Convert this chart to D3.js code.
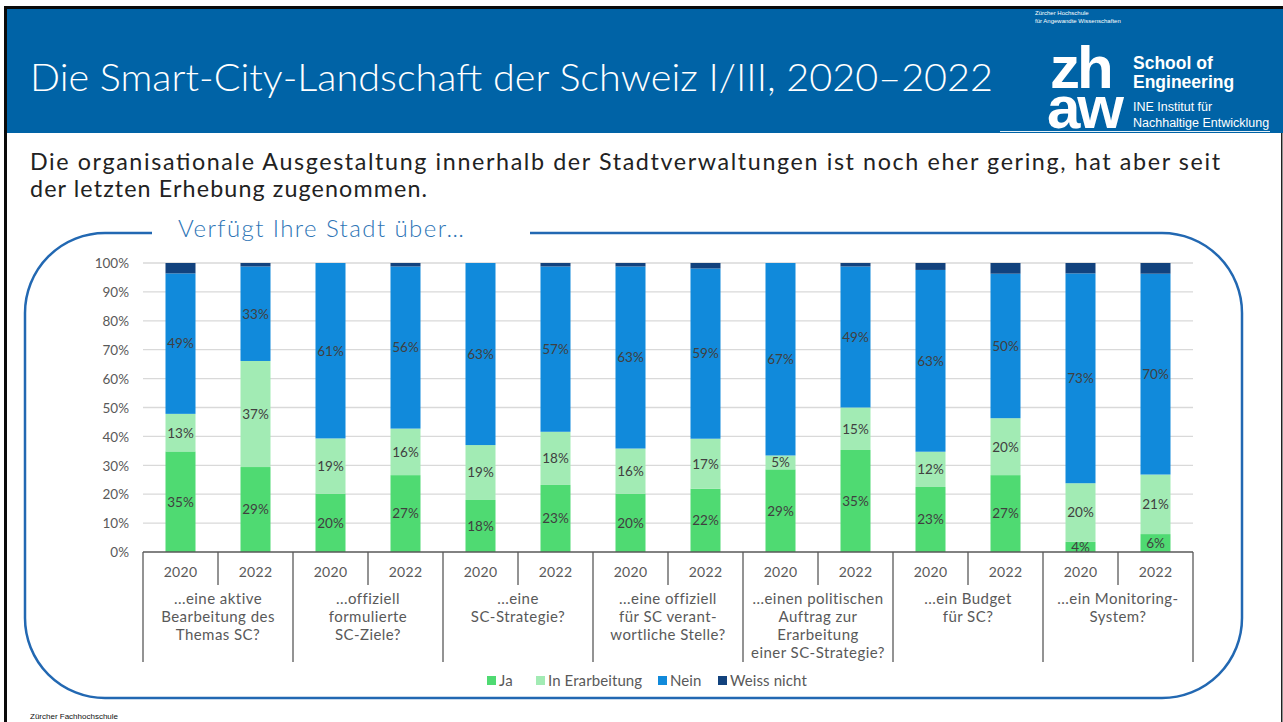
<!DOCTYPE html>
<html><head><meta charset="utf-8">
<script src="https://cdn.jsdelivr.net/npm/d3@7"></script>
<style>
html,body{margin:0;padding:0;background:#fff;}
svg{display:block;}
</style></head>
<body>
<svg id="c" width="1283" height="722"></svg>
<script>
// ---------- data ----------
const groupLabels = [
  ["...eine aktive", "Bearbeitung des", "Themas SC?"],
  ["...offiziell", "formulierte", "SC-Ziele?"],
  ["...eine", "SC-Strategie?"],
  ["...eine offiziell", "für SC verant-", "wortliche Stelle?"],
  ["...einen politischen", "Auftrag zur", "Erarbeitung", "einer SC-Strategie?"],
  ["...ein Budget", "für SC?"],
  ["...ein Monitoring-", "System?"]
];
const years = ["2020", "2022"];
const seriesNames = ["Ja", "In Erarbeitung", "Nein", "Weiss nicht"];
const ja            = [34.8, 29.4, 20.2, 26.6, 18.0, 23.2, 20.2, 21.9, 28.6, 35.3, 22.5, 26.6, 3.5, 6.2];
const inErarbeitung = [13.0, 36.7, 19.1, 16.1, 19.0, 18.4, 15.6, 17.3, 4.8, 14.7, 12.2, 19.7, 20.3, 20.6];
const nein          = [48.6, 32.7, 60.7, 56.1, 63.0, 57.2, 63.0, 58.9, 66.6, 48.8, 62.9, 50.0, 72.6, 69.5];
const weissNicht    = [3.6, 1.2, 0.0, 1.2, 0.0, 1.2, 1.2, 1.9, 0.0, 1.2, 2.4, 3.7, 3.6, 3.7];
const yTicks = [0, 10, 20, 30, 40, 50, 60, 70, 80, 90, 100];
const colors = ["#4FDA72", "#A2EBB4", "#118ADB", "#12427D"];

const svg = d3.select("#c");
const FONT = "Lato, 'Open Sans', sans-serif";

// ---------- slide frame ----------
svg.append("rect").attr("x", 7).attr("y", 9).attr("width", 1276).attr("height", 124).attr("fill", "#0063A6");
svg.append("rect").attr("x", 4).attr("y", 6).attr("width", 1279).attr("height", 3).attr("fill", "#0a0a0a");
svg.append("rect").attr("x", 4).attr("y", 6).attr("width", 3).attr("height", 716).attr("fill", "#0a0a0a");
svg.append("rect").attr("x", 1281).attr("y", 133).attr("width", 1.5).attr("height", 589).attr("fill", "#222");
svg.append("rect").attr("x", 1000).attr("y", 131).attr("width", 270).attr("height", 1).attr("fill", "#ffffff").attr("opacity", 0.9);

svg.append("text").attr("x", 30).attr("y", 91)
  .attr("font-family", FONT).attr("font-weight", 300).attr("font-size", 37)
  .attr("textLength", 963).attr("lengthAdjust", "spacingAndGlyphs")
  .attr("fill", "#fff").text("Die Smart-City-Landschaft der Schweiz I/III, 2020–2022");

// logo
const LF = "'Liberation Sans', Arial, sans-serif";
svg.append("text").attr("x", 1035).attr("y", 15).attr("font-family", LF).attr("font-size", 6).attr("fill", "#fff").text("Zürcher Hochschule");
svg.append("text").attr("x", 1035).attr("y", 23).attr("font-family", LF).attr("font-size", 6).attr("fill", "#fff").text("für Angewandte Wissenschaften");
const logo = svg.append("text").attr("font-family", LF).attr("font-weight", 700).attr("font-size", 60)
  .attr("letter-spacing", -3).attr("fill", "#fff");
logo.append("tspan").attr("x", 1050).attr("y", 88).text("zh");
logo.append("tspan").attr("x", 1047).attr("y", 128).text("aw");
svg.append("text").attr("x", 1133).attr("y", 69).attr("font-family", LF).attr("font-weight", 700).attr("font-size", 17.5).attr("fill", "#fff").text("School of");
svg.append("text").attr("x", 1133).attr("y", 88).attr("font-family", LF).attr("font-weight", 700).attr("font-size", 17.5).attr("fill", "#fff").text("Engineering");
svg.append("text").attr("x", 1133).attr("y", 111).attr("font-family", LF).attr("font-size", 12.5).attr("fill", "#fff").text("INE Institut für");
svg.append("text").attr("x", 1133).attr("y", 127).attr("font-family", LF).attr("font-size", 12.5).attr("fill", "#fff").text("Nachhaltige Entwicklung");

// subtitle
svg.append("text").attr("x", 30).attr("y", 170).attr("font-family", FONT).attr("font-size", 23.3)
  .attr("textLength", 1190).attr("lengthAdjust", "spacing")
  .attr("fill", "#222").text("Die organisationale Ausgestaltung innerhalb der Stadtverwaltungen ist noch eher gering, hat aber seit");
svg.append("text").attr("x", 30).attr("y", 197).attr("font-family", FONT).attr("font-size", 23.3)
  .attr("textLength", 397).attr("lengthAdjust", "spacing")
  .attr("fill", "#222").text("der letzten Erhebung zugenommen.");

// rounded box with gap
const bx0 = 25, bx1 = 1242, by0 = 233, by1 = 698, r = 80;
const boxPath = d3.path();
boxPath.moveTo(152, by0);
boxPath.lineTo(bx0 + r, by0);
boxPath.arcTo(bx0, by0, bx0, by0 + r, r);
boxPath.lineTo(bx0, by1 - r);
boxPath.arcTo(bx0, by1, bx0 + r, by1, r);
boxPath.lineTo(bx1 - r, by1);
boxPath.arcTo(bx1, by1, bx1, by1 - r, r);
boxPath.lineTo(bx1, by0 + r);
boxPath.arcTo(bx1, by0, bx1 - r, by0, r);
boxPath.lineTo(530, by0);
svg.append("path").attr("d", boxPath.toString()).attr("fill", "none").attr("stroke", "#2268B2").attr("stroke-width", 2.5);
svg.append("text").attr("x", 178).attr("y", 237).attr("font-family", FONT).attr("font-weight", 300).attr("font-size", 24)
  .attr("textLength", 286).attr("lengthAdjust", "spacing")
  .attr("fill", "#2E75B6").text("Verfügt Ihre Stadt über…");

// ---------- chart ----------
const x0 = 143, x1 = 1193, yTop = 263, yBot = 552;
const nBars = ja.length;
const barIdx = d3.range(nBars);
const x = d3.scaleBand().domain(barIdx).range([x0, x1]).paddingInner(0.6).paddingOuter(0.3);
const xg = d3.scaleBand().domain(d3.range(groupLabels.length)).range([x0, x1]);
const y = d3.scaleLinear().domain([0, 100]).range([yBot, yTop]);

// gridlines
svg.append("g").selectAll("line").data(yTicks.slice(1)).join("line")
  .attr("x1", x0).attr("x2", x1).attr("y1", d => y(d)).attr("y2", d => y(d))
  .attr("stroke", "#D9D9D9").attr("stroke-width", 1.3);

// y axis labels
const yAxis = d3.axisLeft(y).tickValues(yTicks).tickFormat(d => d + "%").tickSize(0).tickPadding(0);
const yg = svg.append("g").attr("transform", `translate(129,0)`).call(yAxis);
yg.select(".domain").remove();
yg.selectAll("text").attr("font-family", FONT).attr("font-size", 13.5).attr("fill", "#595959").attr("dy", "0.35em");

// stacked bars
const rows = barIdx.map(i => ({ i, "Ja": ja[i], "In Erarbeitung": inErarbeitung[i], "Nein": nein[i], "Weiss nicht": weissNicht[i] }));
const stacked = d3.stack().keys(seriesNames)(rows);
const layers = svg.append("g").selectAll("g").data(stacked).join("g").attr("fill", (d, k) => colors[k]);
layers.selectAll("rect").data(d => d).join("rect")
  .attr("x", d => x(d.data.i)).attr("width", x.bandwidth())
  .attr("y", d => y(d[1])).attr("height", d => Math.max(0, y(d[0]) - y(d[1])));

// value labels (first three series)
stacked.slice(0, 3).forEach(layer => {
  svg.append("g").selectAll("text").data(layer).join("text")
    .attr("x", d => x(d.data.i) + x.bandwidth() / 2)
    .attr("y", d => (y(d[0]) + y(d[1])) / 2)
    .attr("dy", "0.36em").attr("text-anchor", "middle")
    .attr("font-family", FONT).attr("font-size", 13.5).attr("fill", "#404040")
    .text(d => Math.round(d[1] - d[0]) + "%");
});

// category axis
const ax = svg.append("g").attr("stroke", "#595959").attr("stroke-width", 1.3);
ax.append("line").attr("x1", x0).attr("x2", x1).attr("y1", yBot).attr("y2", yBot);
ax.selectAll(".gsep").data(d3.range(groupLabels.length + 1)).join("line")
  .attr("x1", g => g < groupLabels.length ? xg(g) : x1).attr("x2", g => g < groupLabels.length ? xg(g) : x1)
  .attr("y1", yBot).attr("y2", 662);
ax.selectAll(".isep").data(d3.range(groupLabels.length)).join("line")
  .attr("x1", g => xg(g) + xg.bandwidth() / 2).attr("x2", g => xg(g) + xg.bandwidth() / 2)
  .attr("y1", yBot).attr("y2", 585);

svg.append("g").selectAll("text").data(barIdx).join("text")
  .attr("x", i => x(i) + x.bandwidth() / 2).attr("y", 577).attr("text-anchor", "middle")
  .attr("font-family", FONT).attr("font-size", 14).attr("letter-spacing", 0.3).attr("fill", "#595959")
  .text(i => years[i % 2]);

const gl = svg.append("g").selectAll("text").data(groupLabels).join("text")
  .attr("text-anchor", "middle").attr("font-family", FONT).attr("font-size", 15)
  .attr("letter-spacing", 0.45).attr("fill", "#595959");
gl.each(function (lines, g) {
  d3.select(this).selectAll("tspan").data(lines).join("tspan")
    .attr("x", xg(g) + xg.bandwidth() / 2).attr("y", (d, k) => 604 + k * 18).text(d => d);
});

// legend
const legendX = [487, 536, 658, 718];
const lg = svg.append("g").selectAll("g").data(seriesNames).join("g")
  .attr("transform", (d, k) => `translate(${legendX[k]},676)`);
lg.append("rect").attr("width", 9).attr("height", 9).attr("fill", (d, k) => colors[k]);
lg.append("text").attr("x", 12).attr("y", 10).attr("font-family", FONT).attr("font-size", 15)
  .attr("letter-spacing", 0.1).attr("fill", "#595959").text(d => d);

// footer
svg.append("text").attr("x", 30).attr("y", 719).attr("font-family", LF).attr("font-size", 8).attr("fill", "#111").text("Zürcher Fachhochschule");
</script>
</body></html>
